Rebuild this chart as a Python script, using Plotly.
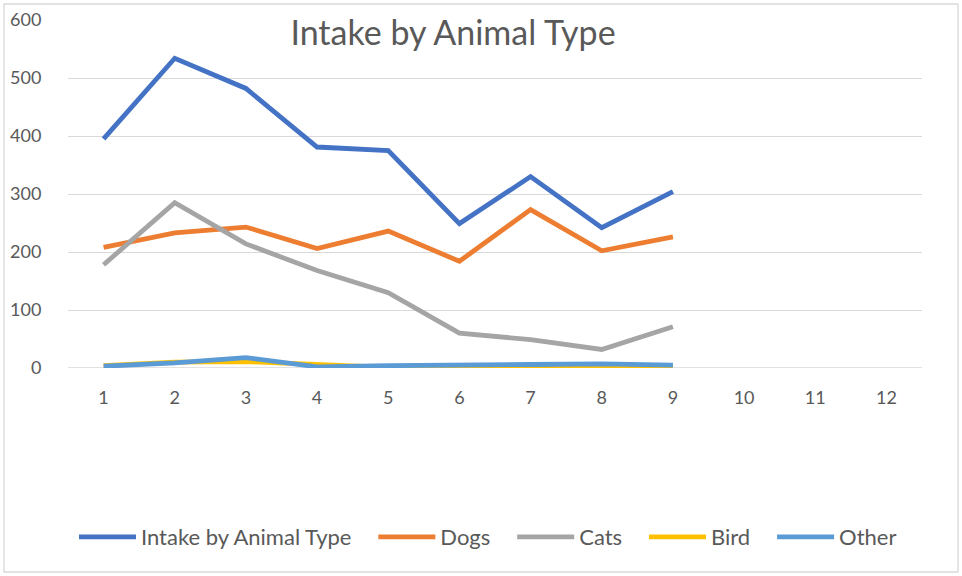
import plotly.graph_objects as go

months = [1, 2, 3, 4, 5, 6, 7, 8, 9]
tick_vals = list(range(1, 13))
total = [395, 534, 482, 381, 375, 249, 330, 242, 304]
dogs = [208, 233, 243, 206, 236, 184, 273, 202, 226]
cats = [178, 285, 214, 168, 130, 60, 49, 32, 71]
bird = [4, 10, 11, 5, 1, 1, 0, 0, 1]
other = [3, 9, 18, 2, 4, 4, 6, 7, 5]

series_names = ["Intake by Animal Type", "Dogs", "Cats", "Bird", "Other"]
series_vals = [total, dogs, cats, bird, other]
series_colors = ["#4472C4", "#ED7D31", "#A5A5A5", "#FFC000", "#5B9BD5"]

NB = "\u00a0"
fig = go.Figure()
for i, (name, vals, color) in enumerate(zip(series_names, series_vals, series_colors)):
    label = name + (NB * 3 if i < len(series_names) - 1 else "")
    fig.add_trace(go.Scatter(x=months, y=vals, name=label, mode="lines",
                             line=dict(color=color, width=4.8),
                             hovertemplate=name + ": %{y}<extra></extra>"))

W, H = 962, 576
L, R, T, B = 68, 40, 20, 208
pw, ph = W - L - R, H - T - B

def px2x(p):
    return (p - L) / pw

def py2y(p):
    return (H - B - p) / ph

font = "Lato, Open Sans, sans-serif"
fig.update_layout(
    width=W, height=H,
    margin=dict(l=L, r=R, t=T, b=B, autoexpand=False),
    paper_bgcolor="white", plot_bgcolor="white",
    font=dict(family=font, color="#595959", size=16),
    title=dict(text="Intake by Animal Type", x=px2x(453), xref="paper",
               y=py2y(33), yref="paper", xanchor="center", yanchor="middle",
               font=dict(size=34, color="#595959", family=font)),
    xaxis=dict(range=[0.5, 12.5], tickvals=tick_vals, ticktext=[str(v) for v in tick_vals],
               showgrid=False, zeroline=False, showline=False,
               ticks="outside", ticklen=13, tickcolor="rgba(0,0,0,0)",
               tickfont=dict(size=18, color="#595959")),
    yaxis=dict(range=[0, 600], dtick=100, showgrid=True, gridcolor="#D9D9D9",
               gridwidth=1.3, zeroline=False, showline=False,
               ticks="outside", ticklen=22, tickcolor="rgba(0,0,0,0)",
               tickfont=dict(size=18, color="#595959")),
    legend=dict(orientation="h", x=px2x(488), xanchor="center",
                y=py2y(537), yanchor="middle", font=dict(size=22, color="#595959"),
                itemwidth=57, tracegroupgap=0),
    showlegend=True,
    shapes=[dict(type="rect", xref="paper", yref="paper",
                 x0=px2x(4), x1=px2x(958), y0=py2y(572), y1=py2y(4),
                 line=dict(color="#D9D9D9", width=1.3), layer="below")],
)
fig.add_shape(type="line", xref="paper", yref="y", x0=0, x1=1, y0=0, y1=0,
              line=dict(color="#D9D9D9", width=1.3), layer="below")

fig.write_html("out.html", config={"displayModeBar": False},
               post_script="document.body.style.margin='0';")
